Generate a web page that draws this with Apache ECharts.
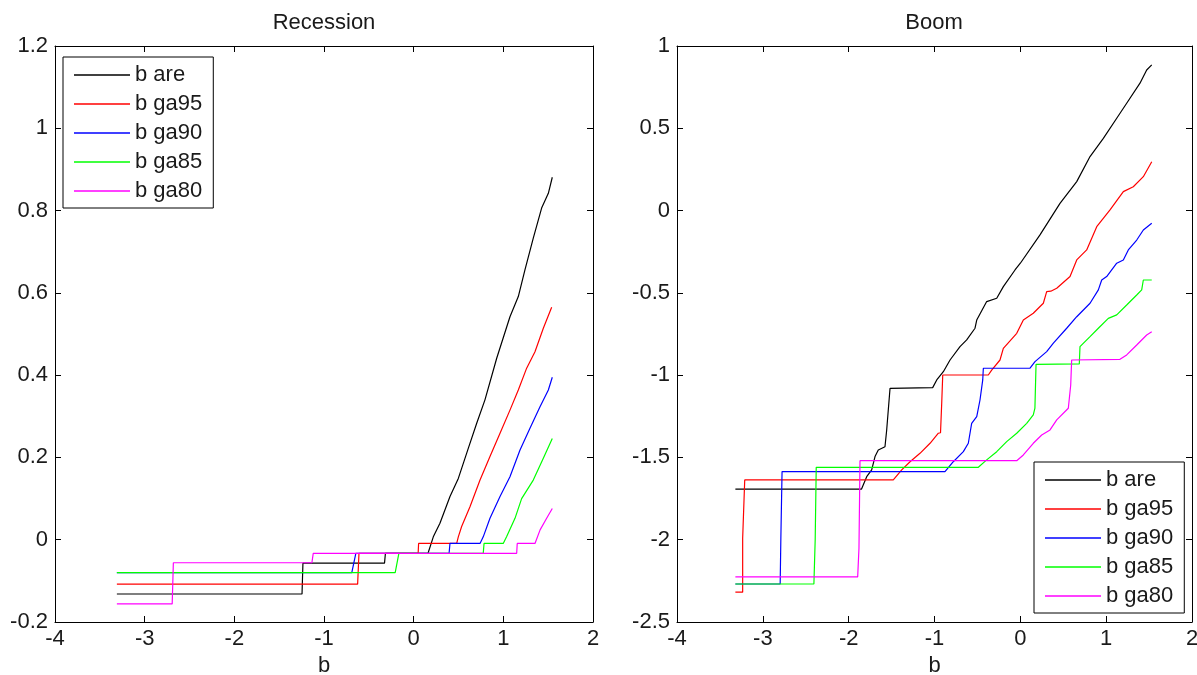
<!DOCTYPE html>
<html>
<head>
<meta charset="utf-8">
<script src="https://cdn.jsdelivr.net/npm/echarts@6/dist/echarts.min.js"></script>
<style>
html,body{margin:0;padding:0;background:#fff;}
#chart{width:1197px;height:675px;}
</style>
</head>
<body>
<div id="chart"></div>
<script>
// ---- Data ----
const seriesNames = ['b are', 'b ga95', 'b ga90', 'b ga85', 'b ga80'];
const seriesColors = ['#000000', '#ff0000', '#0000ff', '#00ff00', '#ff00ff'];

const recessionTitle = 'Recession';
const boomTitle = 'Boom';

// Recession panel
const recBare = [[-3.31,-0.132],[-1.245,-0.132],[-1.235,-0.057],[-0.325,-0.057],[-0.315,-0.033],[0.16,-0.033],[0.219,0.007],[0.293,0.04],[0.405,0.105],[0.498,0.149],[0.609,0.222],[0.703,0.283],[0.795,0.34],[0.926,0.441],[1.074,0.542],[1.167,0.591],[1.241,0.656],[1.334,0.733],[1.427,0.806],[1.502,0.842],[1.546,0.881]];
const recGa95 = [[-3.31,-0.108],[-0.625,-0.108],[-0.61,-0.033],[0.05,-0.033],[0.055,-0.009],[0.48,-0.009],[0.498,0.007],[0.535,0.032],[0.628,0.08],[0.74,0.145],[0.851,0.202],[0.963,0.259],[1.074,0.315],[1.167,0.364],[1.26,0.417],[1.353,0.457],[1.446,0.514],[1.539,0.565]];
const recGa90 = [[-3.31,-0.08],[-0.69,-0.08],[-0.645,-0.033],[0.395,-0.033],[0.405,-0.009],[0.74,-0.009],[0.776,0.007],[0.851,0.052],[0.963,0.105],[1.074,0.153],[1.186,0.218],[1.297,0.271],[1.409,0.323],[1.502,0.364],[1.546,0.395]];
const recGa85 = [[-3.31,-0.08],[-0.206,-0.08],[-0.165,-0.033],[0.776,-0.033],[0.785,-0.009],[0.999,-0.009],[1.036,0.007],[1.13,0.052],[1.204,0.1],[1.334,0.145],[1.446,0.198],[1.546,0.246]];
const recGa80 = [[-3.31,-0.156],[-2.693,-0.156],[-2.68,-0.056],[-1.135,-0.056],[-1.12,-0.033],[1.149,-0.033],[1.155,-0.009],[1.353,-0.009],[1.41,0.024],[1.483,0.052],[1.546,0.076]];

// Boom panel
const boomBare = [[-3.32,-1.692],[-1.85,-1.692],[-1.79,-1.617],[-1.732,-1.576],[-1.693,-1.495],[-1.655,-1.455],[-1.577,-1.435],[-1.557,-1.333],[-1.518,-1.08],[-1.021,-1.076],[-0.974,-1.029],[-0.897,-0.979],[-0.819,-0.908],[-0.703,-0.827],[-0.625,-0.786],[-0.528,-0.715],[-0.508,-0.665],[-0.392,-0.553],[-0.275,-0.533],[-0.198,-0.462],[-0.062,-0.361],[0.0,-0.32],[0.229,-0.148],[0.462,0.044],[0.657,0.176],[0.812,0.328],[0.967,0.439],[1.123,0.561],[1.239,0.652],[1.394,0.774],[1.472,0.854],[1.531,0.885]];
const boomGa95 = [[-3.32,-2.319],[-3.235,-2.319],[-3.235,-1.991],[-3.211,-1.637],[-1.48,-1.637],[-1.382,-1.576],[-1.285,-1.526],[-1.169,-1.475],[-1.052,-1.414],[-0.955,-1.353],[-0.93,-1.35],[-0.916,-1.171],[-0.904,-0.999],[-0.373,-0.999],[-0.334,-0.969],[-0.237,-0.908],[-0.198,-0.837],[-0.042,-0.746],[0.035,-0.665],[0.151,-0.624],[0.268,-0.563],[0.307,-0.493],[0.355,-0.49],[0.424,-0.472],[0.579,-0.401],[0.657,-0.3],[0.773,-0.239],[0.89,-0.098],[1.045,0.004],[1.2,0.115],[1.316,0.145],[1.433,0.206],[1.531,0.297]];
const boomGa90 = [[-3.32,-2.269],[-2.798,-2.269],[-2.79,-1.99],[-2.776,-1.586],[-0.878,-1.586],[-0.781,-1.526],[-0.664,-1.465],[-0.606,-1.414],[-0.567,-1.293],[-0.508,-1.252],[-0.47,-1.151],[-0.438,-1.029],[-0.431,-0.958],[0.113,-0.958],[0.171,-0.918],[0.307,-0.857],[0.385,-0.806],[0.54,-0.715],[0.657,-0.645],[0.812,-0.563],[0.909,-0.482],[0.948,-0.422],[1.006,-0.401],[1.123,-0.32],[1.2,-0.3],[1.258,-0.239],[1.356,-0.179],[1.433,-0.118],[1.531,-0.077]];
const boomGa85 = [[-3.32,-2.269],[-2.405,-2.269],[-2.39,-2.0],[-2.378,-1.56],[-0.489,-1.56],[-0.392,-1.515],[-0.275,-1.465],[-0.159,-1.404],[-0.042,-1.353],[0.074,-1.293],[0.151,-1.242],[0.17,-1.2],[0.183,-0.934],[0.687,-0.932],[0.695,-0.827],[0.812,-0.766],[0.909,-0.715],[1.025,-0.655],[1.123,-0.634],[1.239,-0.574],[1.356,-0.513],[1.414,-0.482],[1.433,-0.422],[1.531,-0.422]];
const boomGa80 = [[-3.32,-2.226],[-1.895,-2.226],[-1.88,-2.052],[-1.868,-1.52],[-0.042,-1.52],[0.035,-1.485],[0.151,-1.414],[0.249,-1.364],[0.346,-1.333],[0.424,-1.272],[0.559,-1.201],[0.587,-1.06],[0.598,-0.908],[1.161,-0.904],[1.239,-0.877],[1.356,-0.817],[1.472,-0.756],[1.531,-0.736]];

// Axis ranges / ticks
const xRange = {min: -4, max: 2, interval: 1};
const recYRange = {min: -0.2, max: 1.2, interval: 0.2};
const boomYRange = {min: -2.5, max: 1, interval: 0.5};
const xAxisName = 'b';

const recessionData = [recBare, recGa95, recGa90, recGa85, recGa80];
const boomData = [boomBare, boomGa95, boomGa90, boomGa85, boomGa80];

// ---- Chart ----
const FONT = 'Liberation Sans, Arial, sans-serif';
const FS = 22;
const TXT = '#1a1a1a';

const chart = echarts.init(document.getElementById('chart'), null, {renderer: 'canvas'});

function xAx(grid, labeled) {
  return {
    type: 'value', gridIndex: grid, position: labeled ? 'bottom' : 'top',
    min: xRange.min, max: xRange.max, interval: xRange.interval,
    name: labeled ? xAxisName : '', nameLocation: 'middle', nameGap: 27,
    nameTextStyle: {fontFamily: FONT, fontSize: FS, color: TXT},
    axisLine: {show: true, onZero: false, lineStyle: {color: '#000', width: 1}},
    axisTick: {show: true, inside: true, length: 6, lineStyle: {color: '#000'}},
    axisLabel: {show: labeled, margin: 6, fontFamily: FONT, fontSize: FS, color: TXT, showMinLabel: true, showMaxLabel: true},
    splitLine: {show: false}
  };
}
function yAx(grid, range, labeled) {
  return {
    type: 'value', gridIndex: grid, position: labeled ? 'left' : 'right',
    min: range.min, max: range.max, interval: range.interval,
    axisLine: {show: true, onZero: false, lineStyle: {color: '#000', width: 1}},
    axisTick: {show: true, inside: true, length: 6, lineStyle: {color: '#000'}},
    axisLabel: {show: labeled, margin: 7, fontFamily: FONT, fontSize: FS, color: TXT, showMinLabel: true, showMaxLabel: true},
    splitLine: {show: false}
  };
}
function legend(left, top) {
  return {
    show: true, orient: 'vertical', left: left, top: top,
    data: seriesNames, selectedMode: false,
    icon: 'rect', itemWidth: 56, itemHeight: 1.5, itemGap: 7,
    padding: [7, 11, 6, 11],
    borderColor: '#000', borderWidth: 1, backgroundColor: '#fff',
    textStyle: {fontFamily: FONT, fontSize: FS, color: TXT, lineHeight: 22}
  };
}

const series = [];
recessionData.forEach((d, i) => series.push({
  name: seriesNames[i], type: 'line', xAxisIndex: 0, yAxisIndex: 0,
  data: d, symbol: 'none', animation: false,
  lineStyle: {color: seriesColors[i], width: 1.2}, itemStyle: {color: seriesColors[i]}
}));
boomData.forEach((d, i) => series.push({
  name: seriesNames[i], type: 'line', xAxisIndex: 2, yAxisIndex: 2,
  data: d, symbol: 'none', animation: false,
  lineStyle: {color: seriesColors[i], width: 1.2}, itemStyle: {color: seriesColors[i]}
}));

chart.setOption({
  animation: false,
  backgroundColor: '#fff',
  title: [
    {text: recessionTitle, left: 324, top: 12, textAlign: 'center', padding: 0,
     textStyle: {fontFamily: FONT, fontSize: FS, fontWeight: 'normal', color: TXT}},
    {text: boomTitle, left: 934, top: 12, textAlign: 'center', padding: 0,
     textStyle: {fontFamily: FONT, fontSize: FS, fontWeight: 'normal', color: TXT}}
  ],
  legend: [legend(63, 57), legend(1034, 462)],
  grid: [
    {left: 55, top: 46, width: 538, height: 576, containLabel: false, outerBoundsMode: 'none'},
    {left: 677, top: 46, width: 515, height: 576, containLabel: false, outerBoundsMode: 'none'}
  ],
  xAxis: [xAx(0, true), xAx(0, false), xAx(1, true), xAx(1, false)],
  yAxis: [yAx(0, recYRange, true), yAx(0, recYRange, false), yAx(1, boomYRange, true), yAx(1, boomYRange, false)],
  series: series
});
</script>
</body>
</html>
